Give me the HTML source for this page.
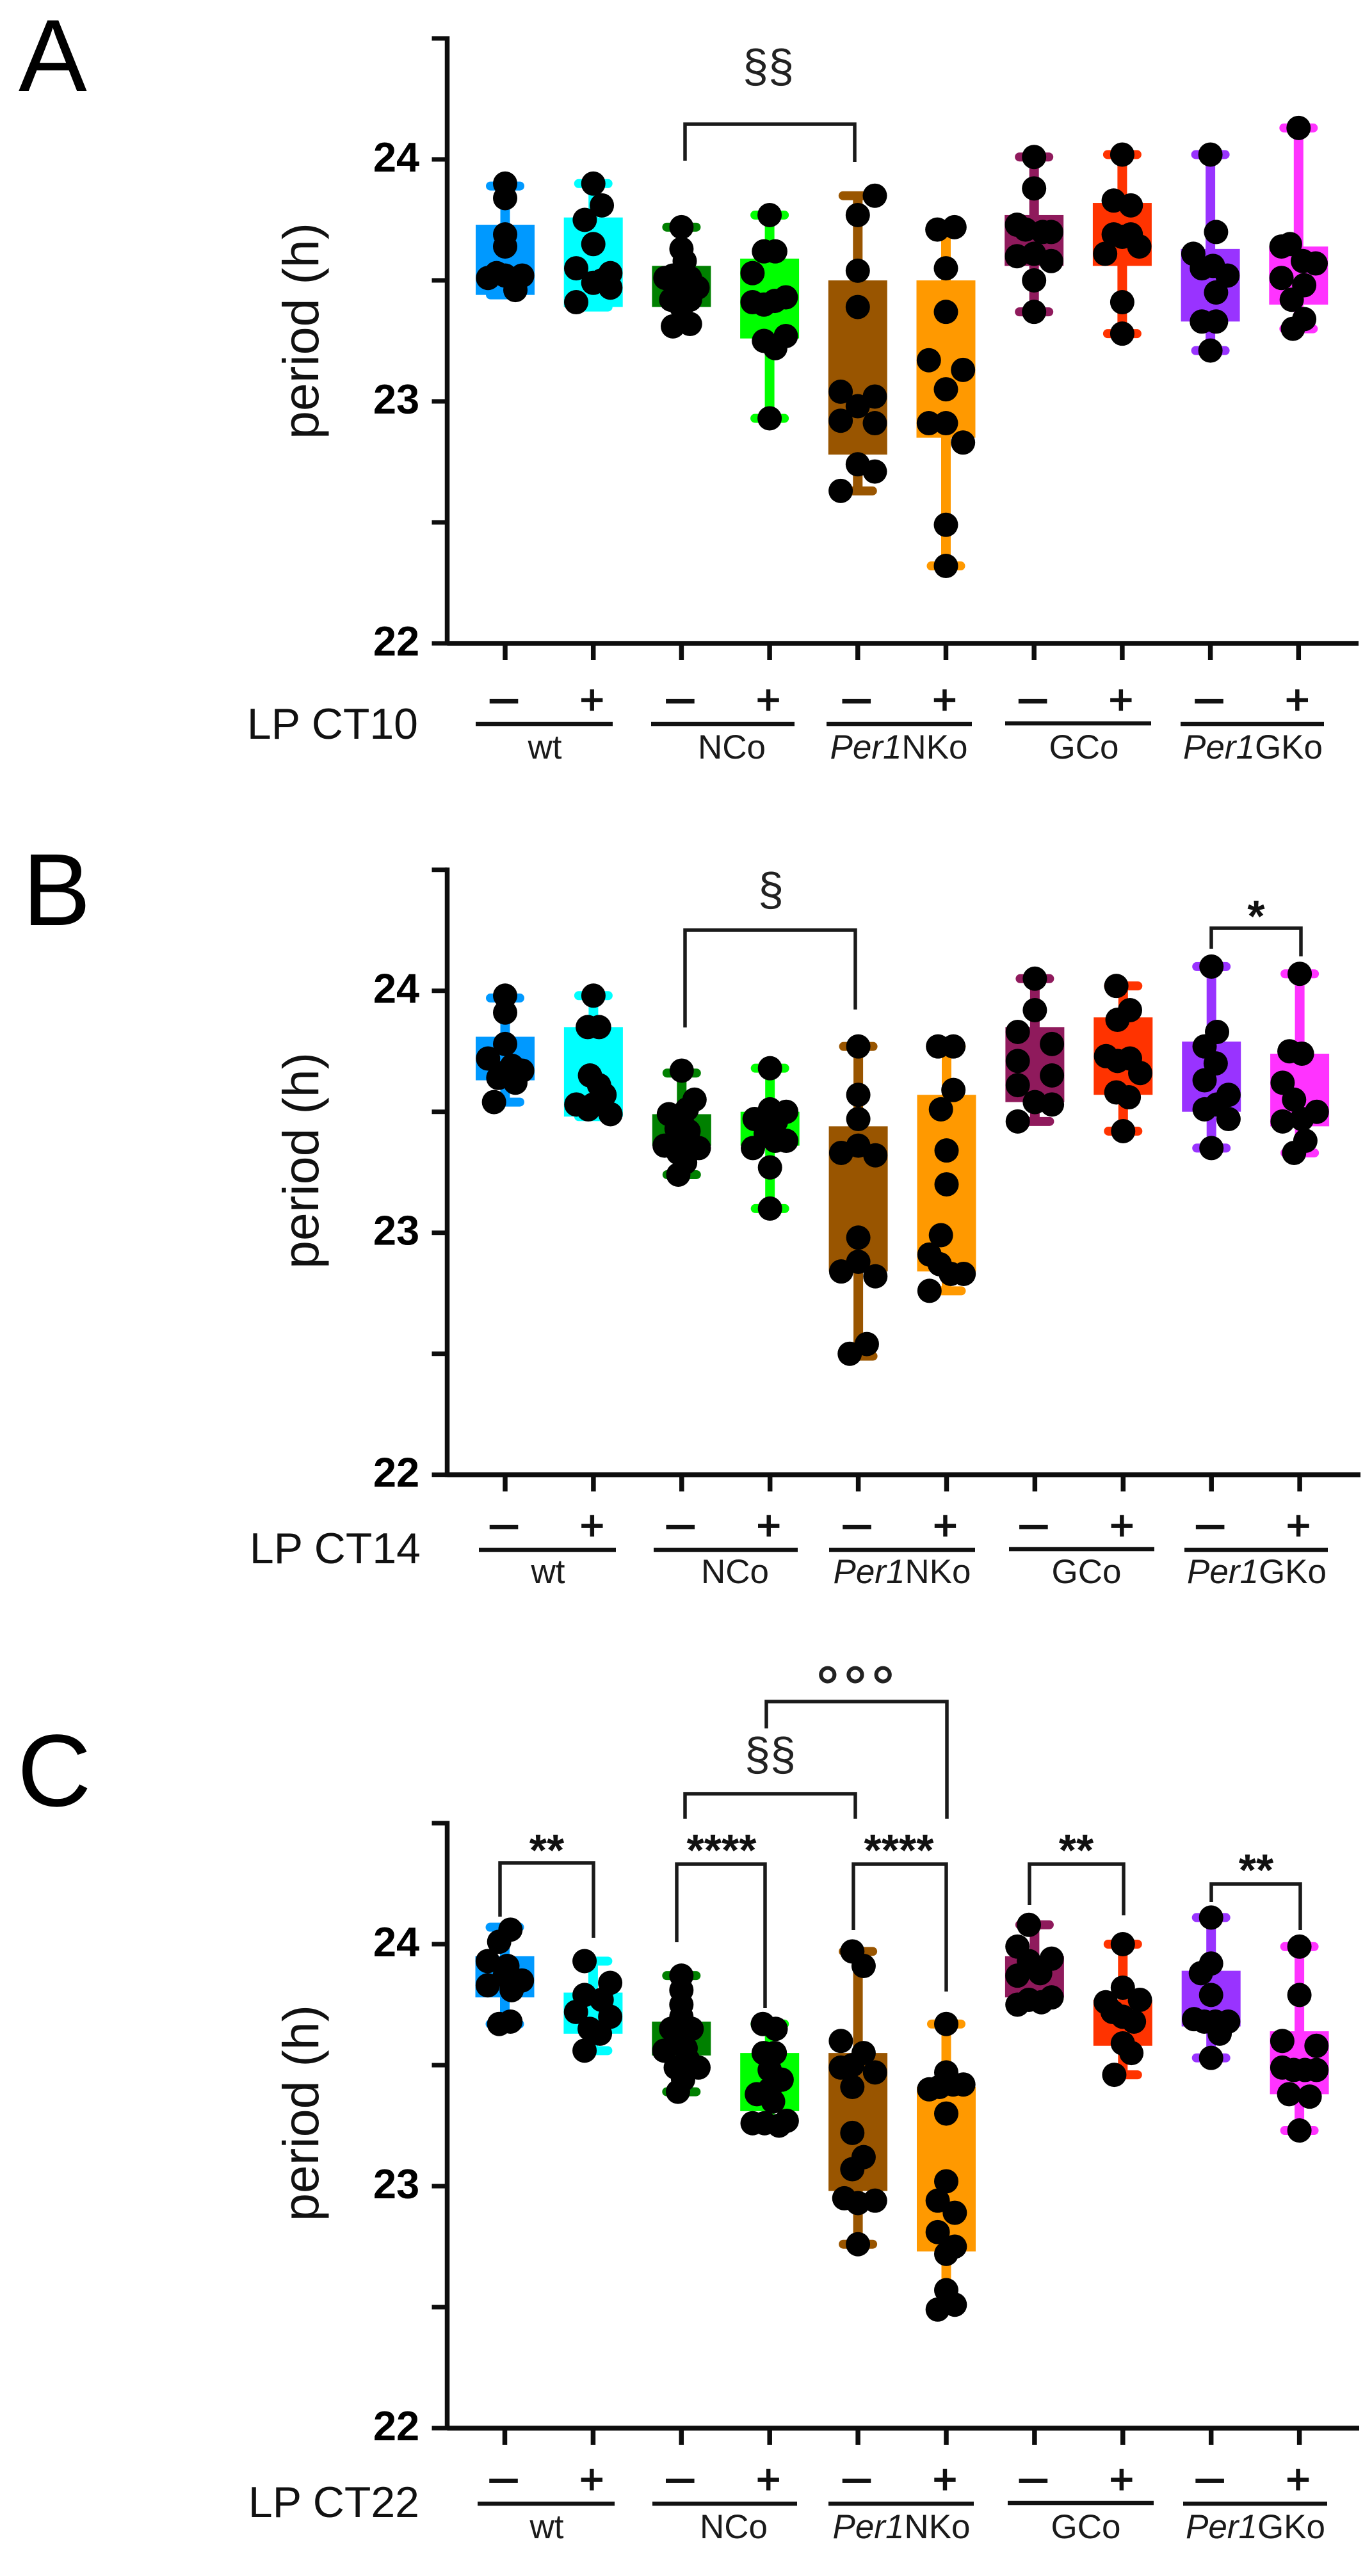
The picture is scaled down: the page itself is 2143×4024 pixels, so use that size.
<!DOCTYPE html>
<html lang="en">
<head>
<meta charset="utf-8">
<title>Period after light pulse by genotype</title>
<style>
html,body{margin:0;padding:0;background:#fff;}
svg{display:block;font-family:"Liberation Sans",Arial,sans-serif;}
.lbl{fill:#1a1a1a;font-size:53px;text-anchor:middle;}
.lp{fill:#111;font-size:68px;text-anchor:end;}
.ylab{fill:#111;font-size:79px;text-anchor:middle;}
.letter{fill:#000;font-size:160px;}
.sect{fill:#222;font-size:72px;text-anchor:middle;}
.star{fill:#111;font-size:70px;font-weight:bold;text-anchor:middle;}
.br{fill:none;stroke:#1a1a1a;stroke-width:5.5;}
.ul{stroke:#111;stroke-width:6.5;}
</style>
</head>
<body>
<svg id="fig" xmlns="http://www.w3.org/2000/svg" width="2143" height="4024" viewBox="0 0 2143 4024">
<rect width="2143" height="4024" fill="#fff"/>

<g id="panel-a"></g>
<g id="panel-b"></g>
<g id="panel-c"></g>

<!-- Panel A labels -->
<text class="letter" x="29" y="142">A</text>
<text class="ylab" transform="translate(497 517) rotate(-90)">period (h)</text>
<text class="lp" x="653" y="1154">LP CT10</text>
<line class="ul" x1="743" x2="957" y1="1131" y2="1131"/>
<line class="ul" x1="1017" x2="1241" y1="1131" y2="1131"/>
<line class="ul" x1="1291" x2="1518" y1="1131" y2="1131"/>
<line class="ul" x1="1570" x2="1798" y1="1130" y2="1130"/>
<line class="ul" x1="1844" x2="2068" y1="1131" y2="1131"/>
<text class="lbl" x="851" y="1185">wt</text>
<text class="lbl" x="1143" y="1185">NCo</text>
<text class="lbl" x="1404" y="1185"><tspan font-style="italic">Per1</tspan>NKo</text>
<text class="lbl" x="1693" y="1185">GCo</text>
<text class="lbl" x="1957" y="1185"><tspan font-style="italic">Per1</tspan>GKo</text>
<path class="br" d="M1070 251V194H1335V253"/>
<text class="sect" x="1200" y="128">§§</text>

<!-- Panel B labels -->
<text class="letter" x="35" y="1445">B</text>
<text class="ylab" transform="translate(497 1813) rotate(-90)">period (h)</text>
<text class="lp" x="657" y="2442">LP CT14</text>
<line class="ul" x1="748" x2="962" y1="2421" y2="2421"/>
<line class="ul" x1="1021" x2="1246" y1="2421" y2="2421"/>
<line class="ul" x1="1295" x2="1523" y1="2421" y2="2421"/>
<line class="ul" x1="1576" x2="1803" y1="2420" y2="2420"/>
<line class="ul" x1="1850" x2="2074" y1="2421" y2="2421"/>
<text class="lbl" x="856" y="2473">wt</text>
<text class="lbl" x="1148" y="2473">NCo</text>
<text class="lbl" x="1409" y="2473"><tspan font-style="italic">Per1</tspan>NKo</text>
<text class="lbl" x="1697" y="2473">GCo</text>
<text class="lbl" x="1963" y="2473"><tspan font-style="italic">Per1</tspan>GKo</text>
<path class="br" d="M1070 1605V1453H1336V1577"/>
<text class="sect" x="1204" y="1414">§</text>
<path class="br" d="M1892 1482V1450H2032V1494"/>
<text class="star" x="1962" y="1455">*</text>

<!-- Panel C labels -->
<text class="letter" x="27" y="2821">C</text>
<text class="ylab" transform="translate(497 3301) rotate(-90)">period (h)</text>
<text class="lp" x="655" y="3932">LP CT22</text>
<line class="ul" x1="746" x2="960" y1="3911" y2="3911"/>
<line class="ul" x1="1019" x2="1245" y1="3911" y2="3911"/>
<line class="ul" x1="1294" x2="1521" y1="3911" y2="3911"/>
<line class="ul" x1="1574" x2="1802" y1="3910" y2="3910"/>
<line class="ul" x1="1848" x2="2073" y1="3911" y2="3911"/>
<text class="lbl" x="854" y="3965">wt</text>
<text class="lbl" x="1146" y="3965">NCo</text>
<text class="lbl" x="1408" y="3965"><tspan font-style="italic">Per1</tspan>NKo</text>
<text class="lbl" x="1696" y="3965">GCo</text>
<text class="lbl" x="1961" y="3965"><tspan font-style="italic">Per1</tspan>GKo</text>
<path class="br" d="M781 2994V2910H927V3027"/>
<text class="star" x="854" y="2914">**</text>
<path class="br" d="M1057 3034V2912H1195V3137"/>
<text class="star" x="1127" y="2914">****</text>
<path class="br" d="M1070 2841V2802H1336V2841"/>
<text class="sect" x="1203" y="2765">§§</text>
<path class="br" d="M1197 2700V2658H1479V2841"/>
<text x="1339" y="2668" font-size="93" letter-spacing="6" text-anchor="middle" fill="#222" stroke="#222" stroke-width="1.2">°°°</text>
<path class="br" d="M1333 3015V2912H1478V3111"/>
<text class="star" x="1404" y="2914">****</text>
<path class="br" d="M1608 2976V2912H1755V2992"/>
<text class="star" x="1681" y="2914">**</text>
<path class="br" d="M1892 2971V2943H2031V3015"/>
<text class="star" x="1962" y="2945">**</text>
</svg>

<script>
const categories = ['wt-minus','wt-plus','nco-minus','nco-plus','per1nko-minus','per1nko-plus','gco-minus','gco-plus','per1gko-minus','per1gko-plus'];
const treatmentSigns = ['–','+','–','+','–','+','–','+','–','+'];
const seriesColors = ['#0099ff','#00ffff','#008000','#00ff00','#995500','#ff9900','#8f1a5c','#ff3300','#9933ff','#ff33ff'];
const yTicks = [22,22.5,23,23.5,24,24.5];
const yTickLabels = [22,23,24];

const panelA_max = [23.89,23.90,23.72,23.77,23.85,23.72,24.01,24.02,24.02,24.13];
const panelA_q3  = [23.73,23.76,23.56,23.59,23.50,23.50,23.77,23.82,23.63,23.64];
const panelA_q1  = [23.44,23.39,23.39,23.26,22.78,22.85,23.56,23.56,23.33,23.40];
const panelA_min = [23.44,23.39,23.31,22.93,22.63,22.32,23.37,23.28,23.21,23.30];
const panelA_points = [
 [23.90,23.84,23.69,23.64,23.51,23.53,23.52,23.50,23.52,23.46],
 [23.90,23.81,23.75,23.65,23.55,23.53,23.50,23.49,23.47,23.41],
 [23.72,23.63,23.58,23.51,23.47,23.52,23.51,23.46,23.42,23.42,23.39,23.31,23.32],
 [23.77,23.62,23.62,23.53,23.41,23.40,23.415,23.43,23.25,23.27,23.22,22.93],
 [23.85,23.77,23.54,23.39,23.04,23.02,22.98,22.92,22.91,22.74,22.71,22.63],
 [23.71,23.72,23.55,23.37,23.17,23.13,23.05,22.91,22.91,22.83,22.49,22.32],
 [24.01,23.88,23.73,23.71,23.70,23.60,23.61,23.58,23.50,23.37,23.70],
 [24.02,23.83,23.81,23.69,23.69,23.68,23.64,23.61,23.41,23.28],
 [24.02,23.70,23.61,23.55,23.56,23.52,23.45,23.33,23.33,23.21],
 [24.13,23.64,23.65,23.58,23.57,23.51,23.48,23.42,23.34,23.30]
];
const panelA_swarm = [
 [0,0,0,0,-1,-.5,0,.5,1,.6],
 [0,.5,-.5,0,-1,1,.5,0,1,-1],
 [0,0,.19,-.94,.94,-.5,.5,0,-.6,.5,0,-.5,.5],
 [0,-.33,.33,-1,-1,-.33,.3,.95,-.33,.95,.33,0],
 [1,0,0,0,-1,1,0,-1,1,0,1,-1],
 [-.5,.5,0,0,-1,1,0,-1,0,1,0,0],
 [0,0,-1,-.5,1,-1,0,1,0,0,.5],
 [0,-.5,.5,-.5,.5,0,1,-1,0,0],
 [0,.33,-1,-.5,.15,1,.33,-.5,.33,0],
 [0,-1,-.5,.25,1,-1,.33,-.4,.33,-.33]
];

const panelB_max = [23.97,23.98,23.66,23.68,23.77,23.77,24.05,24.02,24.10,24.07];
const panelB_q3  = [23.81,23.85,23.49,23.50,23.44,23.57,23.85,23.89,23.79,23.74];
const panelB_q1  = [23.63,23.48,23.36,23.36,22.84,22.84,23.54,23.57,23.50,23.44];
const panelB_min = [23.54,23.48,23.24,23.10,22.49,22.76,23.46,23.42,23.35,23.33];
const panelB_points = [
 [23.98,23.91,23.78,23.72,23.67,23.69,23.66,23.64,23.62,23.65,23.54],
 [23.98,23.85,23.85,23.65,23.61,23.57,23.53,23.53,23.49,23.51],
 [23.67,23.55,23.51,23.49,23.47,23.43,23.42,23.40,23.36,23.36,23.35,23.33,23.29,23.24],
 [23.68,23.51,23.47,23.50,23.46,23.44,23.41,23.38,23.38,23.35,23.27,23.10],
 [23.77,23.57,23.47,23.36,23.33,23.32,22.98,22.88,22.84,22.82,22.54,22.50],
 [23.77,23.77,23.59,23.51,23.34,23.20,22.99,22.91,22.87,22.83,22.83,22.76],
 [24.05,23.92,23.83,23.78,23.71,23.65,23.61,23.54,23.53,23.46],
 [24.02,23.92,23.88,23.73,23.71,23.72,23.66,23.58,23.56,23.42],
 [24.10,23.83,23.77,23.70,23.63,23.57,23.51,23.53,23.47,23.35],
 [24.07,23.75,23.74,23.62,23.55,23.50,23.47,23.46,23.38,23.33]
];
const panelB_swarm = [
 [0,0,0,-1,1,.4,-.15,-.4,.6,0,-.65],
 [0,-.33,.33,-.2,.33,.65,-1,0,1,-.3],
 [0,.75,.3,-.75,0,-.3,.4,0,-1,.5,1,-.2,.2,-.2],
 [0,0,-.9,.95,.35,-.2,-.25,.95,.3,-1,0,0],
 [0,0,0,0,-1,1,0,0,-1,1,.5,-.5],
 [-.5,.4,.4,-.33,0,0,-.33,-1,-.4,.25,1,-1],
 [0,0,-1,1,-1,1,-1,0,1,-1],
 [-.4,.4,-.33,-1,-.33,.4,1,-.4,.33,0],
 [0,.33,-.4,.25,-.4,1,-.4,.33,1,0],
 [0,-.6,.13,-1,-.33,1,.13,-1,.33,-.33]
];

const panelC_max = [24.07,23.93,23.87,23.67,23.97,23.67,24.08,24.00,24.11,23.99];
const panelC_q3  = [23.95,23.80,23.68,23.55,23.55,23.41,23.95,23.77,23.89,23.64];
const panelC_q1  = [23.78,23.63,23.54,23.31,22.98,22.73,23.78,23.58,23.66,23.38];
const panelC_min = [23.67,23.56,23.39,23.26,22.76,22.50,23.75,23.46,23.53,23.23];
const panelC_points = [
 [24.06,24.01,23.93,23.91,23.87,23.85,23.83,23.81,23.67,23.68],
 [23.93,23.84,23.79,23.77,23.72,23.70,23.65,23.63,23.56],
 [23.87,23.81,23.75,23.70,23.65,23.65,23.60,23.57,23.56,23.52,23.49,23.49,23.44,23.39],
 [23.67,23.65,23.55,23.55,23.48,23.44,23.38,23.40,23.35,23.26,23.26,23.27,23.25],
 [23.97,23.91,23.60,23.55,23.50,23.49,23.47,23.41,23.22,23.12,23.07,22.95,22.94,22.93,22.76],
 [23.67,23.47,23.40,23.41,23.42,23.42,23.30,23.02,22.94,22.89,22.81,22.75,22.72,22.57,22.49,22.51],
 [24.08,23.99,23.94,23.93,23.88,23.87,23.78,23.77,23.76,23.75],
 [24.00,23.82,23.77,23.76,23.72,23.70,23.68,23.59,23.55,23.46],
 [24.11,23.92,23.88,23.79,23.69,23.68,23.68,23.68,23.63,23.53],
 [23.99,23.79,23.60,23.58,23.49,23.48,23.48,23.48,23.38,23.37,23.23]
];
const panelC_swarm = [
 [.33,-.33,-1,.15,0,1,-1,.4,-.33,.33],
 [-.5,1,-.5,.5,-1,1,-.2,.4,-.5],
 [0,0,0,0,-.6,.6,0,.25,-1,.4,1,-.33,.1,-.2],
 [-.4,.35,-.35,.3,0,.7,-.75,0,.2,-1,-.3,1,.55],
 [-.33,.33,-1,.33,-.33,-1,1,-.33,-.33,.33,-.33,-.8,1,0,0],
 [0,0,-1,-.4,.4,1,0,0,-.5,.5,-.5,.5,0,0,-.5,.5],
 [-.33,-1,1,-.33,.33,-1,1,-.33,.4,-1],
 [0,0,1,-1,-.6,0,.65,0,.5,-.5],
 [0,0,-.6,0,-1,-.4,1,.25,.5,0],
 [0,0,-1,1,-1,-.33,.33,1,-.6,.6,0]
];

const NS = 'http://www.w3.org/2000/svg';
const PX_PER_HOUR = 378;
const SWARM_UNIT = 26.7;
const DOT_R = 19;
const BOX_W = 92;
const CAP_W = 46;
const CAP_T = 14;
const WHISKER_W = 15;

function mk(parent, tag, attrs) {
  const el = document.createElementNS(NS, tag);
  for (const k in attrs) el.setAttribute(k, attrs[k]);
  parent.appendChild(el);
  return el;
}

function drawPanel(id, key, base22, x0, step, xEnd, signBaseline, vals) {
  const root = document.getElementById(id);
  const yScale = v => base22 - (v - 22) * PX_PER_HOUR;
  const xScale = i => x0 + i * step;
  const axisX = 698.5;

  categories.forEach((cat, i) => {
    const cx = xScale(i);
    const color = seriesColors[i];

    const whisker = mk(root, 'rect', {x: cx - WHISKER_W / 2, y: yScale(vals.max[i]), width: WHISKER_W, height: yScale(vals.min[i]) - yScale(vals.max[i]), fill: color});
    
    

    const capTop = mk(root, 'line', {x1: cx - CAP_W / 2, x2: cx + CAP_W / 2, y1: yScale(vals.max[i]), y2: yScale(vals.max[i]), stroke: color, 'stroke-width': CAP_T, 'stroke-linecap': 'round'});
    
    

    const capBottom = mk(root, 'line', {x1: cx - CAP_W / 2, x2: cx + CAP_W / 2, y1: yScale(vals.min[i]), y2: yScale(vals.min[i]), stroke: color, 'stroke-width': CAP_T, 'stroke-linecap': 'round'});
    
    

    const box = mk(root, 'rect', {x: cx - BOX_W / 2, y: yScale(vals.q3[i]), width: BOX_W, height: yScale(vals.q1[i]) - yScale(vals.q3[i]), fill: color});
    
    
  });

  categories.forEach((cat, i) => {
    const cx = xScale(i);
    vals.points[i].forEach((v, j) => {
      const dot = mk(root, 'circle', {cx: cx + vals.swarm[i][j] * SWARM_UNIT, cy: yScale(v), r: DOT_R, fill: '#000'});
      
      
    });
  });

  const yAxis = mk(root, 'line', {x1: axisX, x2: axisX, y1: yScale(24.5) - 3.5, y2: yScale(22) + 3.5, stroke: '#0d0d0d', 'stroke-width': 7.5});
  
  

  const xAxis = mk(root, 'line', {x1: axisX, x2: xEnd, y1: yScale(22), y2: yScale(22), stroke: '#0d0d0d', 'stroke-width': 7.5});
  
  

  yTicks.forEach(t => {
    const tick = mk(root, 'line', {x1: axisX - 24, x2: axisX, y1: yScale(t), y2: yScale(t), stroke: '#0d0d0d', 'stroke-width': 7});
    
    
  });

  yTickLabels.forEach(t => {
    const label = mk(root, 'text', {x: 619, y: yScale(t) + 19, 'font-size': 65, 'font-weight': 'bold', 'text-anchor': 'middle', fill: '#000'});
    label.textContent = String(t);
    
    
  });

  categories.forEach((cat, i) => {
    const cx = xScale(i);
    const tick = mk(root, 'line', {x1: cx, x2: cx, y1: yScale(22), y2: yScale(22) + 26, stroke: '#0d0d0d', 'stroke-width': 7.5});
    
    

    const isPlus = treatmentSigns[i] === '+';
    const sign = mk(root, 'text', {x: cx - 2, y: signBaseline, 'font-size': isPlus ? 65 : 77, 'text-anchor': 'middle', fill: '#111', stroke: '#111', 'stroke-width': 1.8});
    sign.textContent = treatmentSigns[i];
    
    
  });
}

drawPanel('panel-a', 'a', 1005, 789, 137.7, 2122, 1115,
  {max: panelA_max, q3: panelA_q3, q1: panelA_q1, min: panelA_min, points: panelA_points, swarm: panelA_swarm});
drawPanel('panel-b', 'b', 2303.7, 789, 137.9, 2125, 2405,
  {max: panelB_max, q3: panelB_q3, q1: panelB_q1, min: panelB_min, points: panelB_points, swarm: panelB_swarm});
drawPanel('panel-c', 'c', 3793, 788.5, 137.9, 2123, 3895,
  {max: panelC_max, q3: panelC_q3, q1: panelC_q1, min: panelC_min, points: panelC_points, swarm: panelC_swarm});
</script>
</body>
</html>
